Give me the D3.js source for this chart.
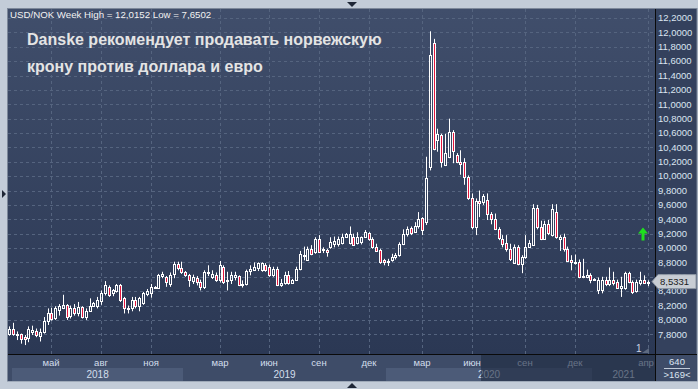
<!DOCTYPE html>
<html>
<head>
<meta charset="utf-8">
<script src="https://cdn.jsdelivr.net/npm/d3@7"></script>
<style>
  body { margin: 0; background: #c3ccd8; }
  svg { display: block; font-family: "Liberation Sans", Arial, sans-serif; }
</style>
</head>
<body>
<div id="chart"></div>
<script>
// weekly USD/NOK candles
const open = [7.81,7.88,7.80,7.80,7.76,7.75,7.83,7.85,7.78,7.83,7.98,8.09,8.02,8.14,8.16,8.21,8.06,8.16,8.10,8.18,
  8.04,8.13,8.20,8.20,8.26,8.38,8.46,8.37,8.40,8.48,8.30,8.16,8.16,8.28,8.20,8.23,8.36,8.37,8.45,8.45,
  8.61,8.60,8.50,8.64,8.78,8.72,8.67,8.62,8.54,8.58,8.53,8.46,8.65,8.60,8.63,8.55,8.74,8.55,8.55,8.60,
  8.61,8.49,8.50,8.68,8.70,8.72,8.70,8.76,8.74,8.62,8.71,8.49,8.51,8.62,8.52,8.56,8.71,8.89,8.84,8.98,
  8.94,9.13,8.97,8.97,9.02,9.06,9.06,9.07,9.15,9.07,9.15,9.07,9.08,9.16,9.21,9.12,9.02,8.97,8.83,8.80,
  8.83,8.87,8.90,9.06,9.20,9.28,9.22,9.30,9.42,9.36,10.13,11.85,10.50,10.57,10.15,10.27,10.61,10.30,10.19,10.20,
  9.99,9.69,9.29,9.65,9.64,9.67,9.48,9.41,9.26,9.13,9.07,8.99,8.79,9.02,8.78,8.88,9.02,9.04,9.55,9.29,
  9.13,9.34,9.18,9.50,9.12,9.16,8.99,8.83,8.80,8.80,8.60,8.60,8.62,8.57,8.41,8.42,8.55,8.50,8.55,8.53,
  8.44,8.45,8.65,8.53,8.40,8.52,8.55,8.52]
const high = [7.91,7.96,7.84,7.81,7.79,7.91,7.92,7.88,7.88,8.04,8.16,8.17,8.19,8.22,8.35,8.22,8.20,8.22,8.25,8.19,
  8.16,8.30,8.25,8.32,8.41,8.54,8.48,8.43,8.50,8.50,8.32,8.20,8.32,8.32,8.32,8.39,8.43,8.50,8.47,8.64,
  8.67,8.61,8.66,8.81,8.81,8.81,8.68,8.64,8.63,8.61,8.56,8.69,8.76,8.69,8.66,8.82,8.76,8.67,8.67,8.67,
  8.62,8.55,8.70,8.76,8.80,8.80,8.80,8.79,8.77,8.74,8.74,8.57,8.67,8.68,8.57,8.74,8.96,9.02,9.02,9.04,
  9.15,9.18,9.01,8.99,9.15,9.16,9.16,9.20,9.21,9.30,9.20,9.22,9.16,9.25,9.22,9.15,9.06,8.99,8.85,8.85,
  8.92,8.93,9.08,9.26,9.30,9.30,9.36,9.50,9.43,10.27,12.0152,11.91,10.66,10.59,10.59,10.80,10.64,10.32,10.36,10.25,
  10.01,9.76,9.69,9.80,9.75,9.76,9.50,9.48,9.29,9.18,9.18,9.06,9.05,9.04,8.90,9.18,9.11,9.61,9.60,9.38,
  9.38,9.39,9.61,9.61,9.18,9.20,9.02,8.90,8.91,8.84,8.85,8.70,8.65,8.58,8.59,8.60,8.60,8.73,8.67,8.56,
  8.60,8.67,8.67,8.55,8.56,8.67,8.62,8.55]
const low = [7.78,7.78,7.72,7.67,7.6502,7.69,7.79,7.76,7.70,7.81,7.93,7.99,8.00,8.06,8.15,8.00,8.02,8.06,8.05,8.02,
  8.00,8.11,8.18,8.16,8.21,8.34,8.32,8.33,8.38,8.25,8.09,8.09,8.12,8.16,8.12,8.21,8.33,8.31,8.44,8.44,
  8.58,8.46,8.46,8.58,8.69,8.64,8.60,8.46,8.50,8.48,8.41,8.43,8.61,8.57,8.53,8.52,8.50,8.41,8.50,8.55,
  8.47,8.45,8.48,8.62,8.68,8.68,8.67,8.67,8.60,8.60,8.47,8.46,8.49,8.49,8.50,8.55,8.69,8.83,8.83,8.90,
  8.92,8.93,8.93,8.88,8.99,9.01,9.02,9.05,9.14,9.05,9.03,9.05,9.05,9.14,9.10,8.99,8.95,8.78,8.76,8.75,
  8.81,8.84,8.88,9.04,9.16,9.18,9.21,9.27,9.18,9.32,10.08,10.36,10.34,10.12,10.14,10.25,10.18,10.18,10.02,9.88,
  9.67,9.26,9.18,9.43,9.60,9.39,9.33,9.25,9.11,9.01,8.95,8.82,8.78,8.76,8.65,8.85,9.01,9.03,9.26,9.11,
  9.12,9.18,9.16,9.13,8.96,8.95,8.81,8.69,8.77,8.58,8.58,8.58,8.51,8.55,8.36,8.37,8.47,8.47,8.48,8.44,
  8.32,8.42,8.51,8.36,8.38,8.48,8.50,8.47]
const close = [7.88,7.80,7.79,7.74,7.74,7.87,7.86,7.79,7.83,7.98,8.09,8.01,8.16,8.19,8.21,8.04,8.16,8.10,8.18,8.04,
  8.13,8.19,8.23,8.28,8.38,8.48,8.35,8.41,8.48,8.28,8.16,8.17,8.28,8.20,8.30,8.37,8.40,8.46,8.46,8.62,
  8.64,8.53,8.63,8.78,8.72,8.66,8.63,8.55,8.60,8.53,8.46,8.66,8.67,8.64,8.56,8.76,8.53,8.54,8.62,8.63,
  8.49,8.50,8.68,8.71,8.74,8.79,8.79,8.69,8.62,8.71,8.48,8.51,8.62,8.51,8.56,8.71,8.92,8.91,8.98,8.92,
  9.13,8.95,8.98,8.95,9.09,9.10,9.12,9.16,9.19,9.19,9.04,9.15,9.15,9.22,9.12,9.02,8.96,8.81,8.80,8.82,
  8.88,8.91,9.06,9.20,9.27,9.21,9.30,9.40,9.25,9.97,11.69,10.38,10.58,10.20,10.32,10.62,10.35,10.19,10.17,9.99,
  9.69,9.29,9.65,9.62,9.72,9.47,9.40,9.27,9.14,9.06,8.99,8.85,9.02,8.78,8.88,9.02,9.07,9.55,9.29,9.12,
  9.34,9.21,9.54,9.15,9.16,8.99,8.82,8.80,8.81,8.60,8.61,8.62,8.56,8.56,8.56,8.56,8.50,8.56,8.52,8.45,
  8.47,8.65,8.53,8.39,8.53,8.56,8.52,8.5331]

// axis labels
const priceTicks = d3.range(7.8, 12.2001, 0.2)
const monthLabels = ["май","авг","ноя","мар","июн","сен","дек","мар","июн","сен","дек","апр"]
const monthBars = [11, 24, 37, 55, 68, 81, 94, 108, 121, 135, 148, 167]
const yearLabels = ["2018","2019","2020","2021"]
const yearStartBars = [0, 46, 99, 153]
const header = "USD/NOK Week High = 12,0152 Low = 7,6502"
const titleLines = ["Danske рекомендует продавать норвежскую", "крону против доллара и евро"]

const W = 698, H = 389
const plot = { left: 8, right: 655, top: 9, bottom: 354 }
const axisBottom = 381

const svg = d3.select("#chart").append("svg")
  .attr("width", W)
  .attr("height", H)

const defs = svg.append("defs")
const grad = defs.append("linearGradient")
  .attr("id", "bg")
  .attr("x1", 0).attr("y1", 0).attr("x2", 0).attr("y2", 1)
grad.append("stop").attr("offset", "0%").attr("stop-color", "#404e6b")
grad.append("stop").attr("offset", "100%").attr("stop-color", "#2b3854")
defs.append("clipPath").attr("id", "clip")
  .append("rect")
  .attr("x", plot.left).attr("y", plot.top)
  .attr("width", plot.right - plot.left).attr("height", plot.bottom - plot.top)

// outer frame
svg.append("rect").attr("width", W).attr("height", H).attr("fill", "#c3ccd8")
svg.append("rect")
  .attr("x", 7.5).attr("y", 8.5)
  .attr("width", 697 - 7.5).attr("height", axisBottom - 8.5)
  .attr("fill", "#34415d")
  .attr("stroke", "#7d889a")

// scales
const x = d3.scaleLinear()
  .domain([0, close.length - 1])
  .range([9.3, 647.7])
const y = d3.scaleLinear()
  .domain([7.8, 12.2])
  .range([334.3, 18])
const px = i => Math.round(x(i))

// plot background
svg.append("rect")
  .attr("x", plot.left).attr("y", plot.top)
  .attr("width", plot.right - plot.left).attr("height", plot.bottom - plot.top)
  .attr("fill", "url(#bg)")

const bounds = svg.append("g").attr("clip-path", "url(#clip)")

// grids
bounds.selectAll("line.hgrid")
  .data(priceTicks)
  .join("line")
  .attr("x1", plot.left).attr("x2", plot.right)
  .attr("y1", d => Math.round(y(d)) + 0.5)
  .attr("y2", d => Math.round(y(d)) + 0.5)
  .attr("stroke", "#55647f")
  .attr("stroke-dasharray", "3,3")

bounds.selectAll("line.vgrid")
  .data(monthBars)
  .join("line")
  .attr("x1", d => px(d) + 0.5).attr("x2", d => px(d) + 0.5)
  .attr("y1", plot.top).attr("y2", plot.bottom)
  .attr("stroke", "#55647f")
  .attr("stroke-dasharray", "3,3")

// header + title
svg.append("text")
  .attr("x", 10).attr("y", 18)
  .attr("fill", "#f2f2f2")
  .style("font-size", "9.7px")
  .text(header)

svg.selectAll("text.title")
  .data(titleLines)
  .join("text")
  .attr("x", 27)
  .attr("y", (d, i) => 45 + i * 27)
  .attr("fill", "#e4e4e4")
  .style("font-size", "16px")
  .style("font-weight", "bold")
  .text(d => d)

// candles
const idx = d3.range(close.length)
const isDown = i => close[i] < open[i]
const bodyTop = i => Math.round(y(Math.max(open[i], close[i])))
const bodyBot = i => Math.max(Math.round(y(Math.min(open[i], close[i]))), bodyTop(i) + 1)

bounds.selectAll("line.wickUp")
  .data(idx)
  .join("line")
  .attr("x1", i => px(i) + 0.5).attr("x2", i => px(i) + 0.5)
  .attr("y1", i => y(high[i]))
  .attr("y2", i => bodyTop(i))
  .attr("stroke", "#ffffff")

bounds.selectAll("line.wickDown")
  .data(idx)
  .join("line")
  .attr("x1", i => px(i) + 0.5).attr("x2", i => px(i) + 0.5)
  .attr("y1", i => bodyBot(i))
  .attr("y2", i => y(low[i]))
  .attr("stroke", "#ffffff")

bounds.selectAll("rect.body")
  .data(idx)
  .join("rect")
  .attr("x", i => px(i) - 0.5)
  .attr("width", 2)
  .attr("y", i => bodyTop(i) + 0.5)
  .attr("height", i => bodyBot(i) - bodyTop(i))
  .attr("fill", i => isDown(i) ? "#e3173e" : "none")
  .attr("stroke", "#ffffff")

// green arrow marker
const ax = 643, ay = y(9.19)
svg.append("path")
  .attr("d", `M${ax},${ay - 7} L${ax + 5},${ay - 1} L${ax + 1.5},${ay - 1} L${ax + 1.5},${ay + 6} L${ax - 1.5},${ay + 6} L${ax - 1.5},${ay - 1} L${ax - 5},${ay - 1} Z`)
  .attr("fill", "#1fe01f")

// "1" marker bottom right
svg.append("text")
  .attr("x", 636).attr("y", 352)
  .attr("fill", "#c9d4e4")
  .style("font-size", "10px")
  .text("1")
svg.append("path")
  .attr("d", "M642,353 L649,353 L649,348 Z")
  .attr("fill", "#5d6a80")

// frame lines
svg.append("line")
  .attr("x1", plot.right + 0.5).attr("x2", plot.right + 0.5)
  .attr("y1", plot.top).attr("y2", axisBottom)
  .attr("stroke", "#0a0a0a")
svg.append("line")
  .attr("x1", plot.left).attr("x2", 697)
  .attr("y1", plot.bottom + 0.5).attr("y2", plot.bottom + 0.5)
  .attr("stroke", "#0a0a0a")

// right price axis
const fmt = d => d3.format(".4f")(d).replace(".", ",")
svg.selectAll("text.ytick")
  .data(priceTicks)
  .join("text")
  .attr("x", 658)
  .attr("y", d => y(d))
  .attr("dy", "0.35em")
  .attr("fill", "#dbe5f1")
  .style("font-size", "9.5px")
  .text(fmt)

// last price tag (covers the neighbouring tick label, as in the source)
const lastY = y(close[close.length - 1])
svg.append("path")
  .attr("d", `M652,${lastY} L658,${lastY - 7} L696,${lastY - 7} L696,${lastY + 7} L658,${lastY + 7} Z`)
  .attr("fill", "#c8cdd4")
  .attr("stroke", "#8c95a3")
svg.append("text")
  .attr("x", 660).attr("y", lastY)
  .attr("dy", "0.35em")
  .attr("fill", "#1b1b1b")
  .style("font-size", "9.5px")
  .text(fmt(close[close.length - 1]))

// bottom time axis
const monthRow = { top: plot.bottom + 1, bottom: 368 }
svg.append("rect")
  .attr("x", plot.left).attr("y", monthRow.top)
  .attr("width", plot.right - plot.left).attr("height", axisBottom - monthRow.top)
  .attr("fill", "#3e4c68")

const yearEnds = yearStartBars.slice(1).map(b => x(b - 0.5)).concat([plot.right])
const yearStarts = yearStartBars.map((b, i) => i === 0 ? 12 : x(b - 0.5))
svg.selectAll("rect.yearband")
  .data(yearLabels)
  .join("rect")
  .attr("x", (d, i) => Math.round(yearStarts[i]))
  .attr("y", monthRow.bottom)
  .attr("width", (d, i) => Math.round(yearEnds[i]) - Math.round(yearStarts[i]))
  .attr("height", axisBottom - monthRow.bottom)
  .attr("fill", (d, i) => i % 2 === 0 ? "#4c5b78" : "#3e4c68")

svg.selectAll("text.month")
  .data(monthLabels)
  .join("text")
  .attr("x", (d, i) => Math.min(px(monthBars[i]), 646))
  .attr("y", 366)
  .attr("text-anchor", "middle")
  .attr("fill", "#d3deec")
  .style("font-size", "9.5px")
  .text(d => d)

svg.selectAll("text.year")
  .data(yearLabels)
  .join("text")
  .attr("x", (d, i) => (yearStarts[i] + yearEnds[i]) / 2)
  .attr("y", 378)
  .attr("text-anchor", "middle")
  .attr("fill", "#d3deec")
  .style("font-size", "10px")
  .text(d => d)

// shaded scroll region on the time axis
const shadeStart = Math.round(x(124 - 0.5))
svg.append("rect")
  .attr("x", shadeStart).attr("y", monthRow.top)
  .attr("width", plot.right - shadeStart).attr("height", axisBottom - monthRow.top)
  .attr("fill", "#1e2a40")
  .attr("opacity", 0.6)

// bottom-right counter box
svg.append("rect")
  .attr("x", plot.right + 1).attr("y", monthRow.top)
  .attr("width", 697 - plot.right - 1).attr("height", axisBottom - monthRow.top)
  .attr("fill", "#3e4c68")
svg.append("text")
  .attr("x", 677).attr("y", 365)
  .attr("text-anchor", "middle")
  .attr("fill", "#dbe5f1")
  .style("font-size", "9.5px")
  .text("640")
svg.append("line")
  .attr("x1", 664).attr("x2", 690)
  .attr("y1", 368.5).attr("y2", 368.5)
  .attr("stroke", "#c0cad8")
svg.append("text")
  .attr("x", 677).attr("y", 378)
  .attr("text-anchor", "middle")
  .attr("fill", "#dbe5f1")
  .style("font-size", "9.5px")
  .text(">169<")

// little scroll markers on the outer frame
svg.append("path").attr("d", "M347,2 L357,2 L352,7 Z").attr("fill", "#1e2636")
svg.append("path").attr("d", "M347,388 L357,388 L352,383 Z").attr("fill", "#1e2636")
svg.append("path").attr("d", "M2,190 L2,198 L6,194 Z").attr("fill", "#1e2636")
</script>
</body>
</html>
